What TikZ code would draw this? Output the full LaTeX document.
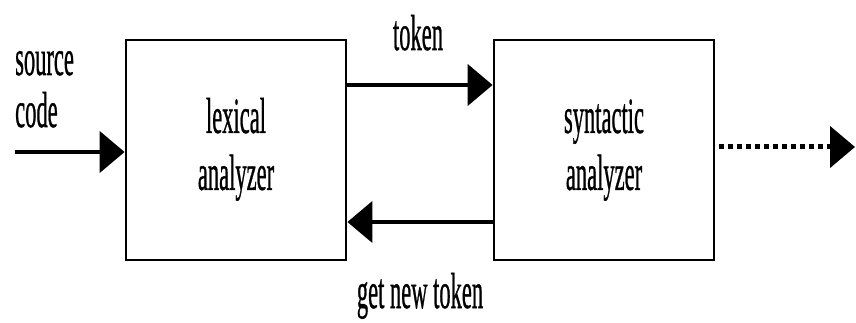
\documentclass[tikz,border=0pt]{standalone}
\usepackage{fontspec}
\usepackage{graphicx}
\setmainfont[FakeBold=1]{Liberation Serif}
\usetikzlibrary{arrows.meta}

% tall, narrow lettering
\newcommand\tallbox[1]{\scalebox{1}[2.25]{#1}}

\begin{document}
\begin{tikzpicture}[x=1pt,y=-1pt,
  every node/.style={font=\fontsize{22.5}{25.3}\selectfont},
  stage/.style={draw, line width=2.8pt, minimum width=220pt, minimum height=220pt,
                inner sep=0pt, align=center},
  lbl/.style={inner sep=0pt},
  head/.style={-{Triangle[length=25pt,width=41pt]}},
  flow/.style={line width=4.5pt, head},
  dotline/.style={line width=5pt, dash pattern=on 5pt off 4pt, dash phase=5pt}]
  \useasboundingbox (0,0) rectangle (856,323);

  \node[stage] (lex) at (236,150)
    {\tallbox{\begin{tabular}{@{}c@{}}lexical\\analyzer\end{tabular}}};
  \node[stage] (syn) at (604,150)
    {\tallbox{\begin{tabular}{@{}c@{}}syntactic\\analyzer\end{tabular}}};

  % input and output ends
  \coordinate (src) at (15,152);
  \coordinate (out) at (855,147);
  \coordinate (outbase) at (828,147);
  \coordinate (dotend) at (842,147);

  \node[lbl, anchor=base west] (srcA) at (15,75) {\tallbox{source}};
  \node[lbl, anchor=base west] (srcB) at (15,127) {\tallbox{code}};

  \draw[flow] (src) -- ([yshift=-2pt]lex.west);
  \draw[flow] ([yshift=65pt]lex.east) -- ([yshift=65pt]syn.west);
  \draw[flow] ([yshift=-72pt]syn.west) -- ([yshift=-72pt]lex.east);
  % dotted output line, running under its solid head
  \draw[dotline] ([yshift=3pt]syn.east) -- (dotend);
  \draw[flow] (outbase) -- (out);

  \node[lbl, anchor=base] (tok) at (418,50) {\tallbox{token}};
  \node[lbl, anchor=base] (getnew) at (420,308) {\tallbox{get new token}};
\end{tikzpicture}
\end{document}
